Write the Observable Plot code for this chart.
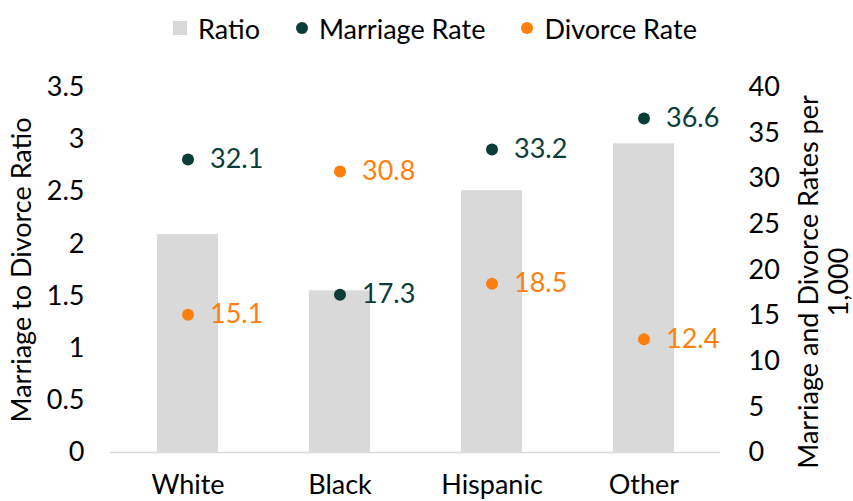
<!DOCTYPE html>
<html>
<head>
<meta charset="utf-8">
<script src="https://cdn.jsdelivr.net/npm/d3@7"></script>
<script src="https://cdn.jsdelivr.net/npm/@observablehq/plot@0.6"></script>
<style>
  html, body { margin: 0; padding: 0; background: #fff; overflow: hidden; }
  body { width: 853px; height: 501px; font-family: Lato, sans-serif; }
  #legend { height: 56px; display: flex; align-items: center; justify-content: center; font-size: 27px; color: #000; padding-left: 17px; box-sizing: border-box; }
  .item { display: flex; align-items: center; margin: 0 18px; }
  .sw { display: inline-block; margin-right: 11px; }
</style>
</head>
<body>
<div id="legend"></div>
<div id="chart"></div>
<script>
const categories = ["White", "Black", "Hispanic", "Other"];
const ratio = [2.09, 1.55, 2.51, 2.96];
const marriageRate = [32.1, 17.3, 33.2, 36.6];
const divorceRate = [15.1, 30.8, 18.5, 12.4];
const ratioTicks = [0, 0.5, 1, 1.5, 2, 2.5, 3, 3.5];
const rateTicks = [0, 5, 10, 15, 20, 25, 30, 35, 40];
const seriesNames = ["Ratio", "Marriage Rate", "Divorce Rate"];
const colors = { bar: "#d9d9d9", marriage: "#0a3d38", divorce: "#ff7f0e" };

const k = 3.5 / 40; // rate -> ratio axis
const rows = categories.map((c, i) => ({ cat: c, ratio: ratio[i], m: marriageRate[i], d: divorceRate[i] }));

// legend
const legend = document.getElementById("legend");
const swatches = [
  { name: seriesNames[0], style: `width:14px;height:14px;background:${colors.bar}` },
  { name: seriesNames[1], style: `width:12px;height:12px;border-radius:50%;background:${colors.marriage}` },
  { name: seriesNames[2], style: `width:12px;height:12px;border-radius:50%;background:${colors.divorce}` }
];
swatches.forEach(s => {
  const it = document.createElement("div");
  it.className = "item";
  it.innerHTML = `<span class="sw" style="${s.style}"></span><span>${s.name}</span>`;
  legend.appendChild(it);
});

const fs = 27;
const font = "Lato, sans-serif";
const chart = Plot.plot({
  width: 853,
  height: 445,
  marginTop: 31,
  marginBottom: 49,
  marginLeft: 110,
  marginRight: 133,
  style: { fontFamily: font, fontSize: fs + "px", color: "#000", background: "#fff" },
  x: { domain: categories, paddingInner: 0.6, paddingOuter: 0.3, align: 0.5 },
  y: { domain: [0, 3.5] },
  marks: [
    Plot.barY(rows, { x: "cat", y: "ratio", fill: colors.bar }),
    Plot.ruleY([0], { stroke: "#d9d9d9", strokeWidth: 1.5 }),
    Plot.axisX({ tickSize: 0, tickPadding: 22, label: null, fontSize: fs }),
    Plot.axisY(ratioTicks, { anchor: "left", tickSize: 0, tickPadding: 26, tickFormat: d => String(d), label: null, fontSize: fs }),
    Plot.axisY(rateTicks.map(t => t * k), { anchor: "right", tickSize: 0, tickPadding: 28, tickFormat: d => String(Math.round(d / k)), label: null, fontSize: fs, textAnchor: "start" }),
    Plot.dot(rows, { x: "cat", y: d => d.m * k, r: 6, fill: colors.marriage }),
    Plot.dot(rows, { x: "cat", y: d => d.d * k, r: 6, fill: colors.divorce }),
    Plot.text(rows, { x: "cat", y: d => d.m * k, text: d => d.m.toFixed(1), dx: 22, textAnchor: "start", fill: colors.marriage, fontSize: fs }),
    Plot.text(rows, { x: "cat", y: d => d.d * k, text: d => d.d.toFixed(1), dx: 22, textAnchor: "start", fill: colors.divorce, fontSize: fs }),
    Plot.text(["Marriage to Divorce Ratio"], { frameAnchor: "left", dx: -88, rotate: -90, textAnchor: "middle", lineAnchor: "middle", fontSize: fs, fill: "#000" }),
    Plot.text(["Marriage and Divorce Rates per\n1,000"], { frameAnchor: "right", dx: 103, dy: 12, rotate: -90, textAnchor: "middle", lineAnchor: "middle", fontSize: fs, lineHeight: 1.12, fill: "#000" })
  ]
});
document.getElementById("chart").appendChild(chart);
</script>
</body>
</html>
